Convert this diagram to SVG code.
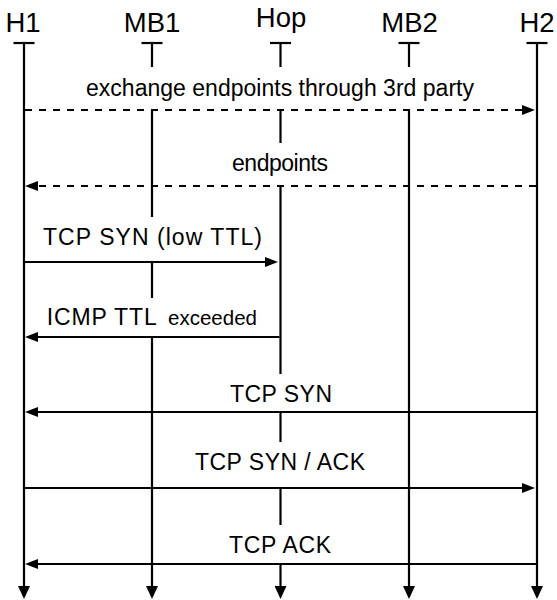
<svg xmlns="http://www.w3.org/2000/svg" width="557" height="600" viewBox="0 0 557 600">
<style>
.life{stroke:#000;stroke-width:2.2;fill:none}
.cap{stroke:#000;stroke-width:2.2}
.msg{stroke:#000;stroke-width:2.2;fill:none;marker-end:url(#ah)}
.dash{stroke-dasharray:7 7}
.bg{fill:#fff;stroke:none}
.name{font-family:"Liberation Sans",Arial,sans-serif;font-size:27.5px;text-anchor:middle;fill:#000}
.lbl{font-family:"Liberation Sans",Arial,sans-serif;font-size:23px;text-anchor:middle;fill:#000}
.lbls{font-family:"Liberation Sans",Arial,sans-serif;font-size:20.5px;fill:#000}
</style>
<defs>
<marker id="ah" viewBox="0 0 13 10" markerWidth="13" markerHeight="10" refX="2" refY="5" orient="auto" markerUnits="userSpaceOnUse">
<path d="M0,0 L13,5 L0,10 z" fill="#000"/>
</marker>
<marker id="ahl" viewBox="0 0 13 12" markerWidth="13" markerHeight="12" refX="2" refY="6" orient="auto" markerUnits="userSpaceOnUse">
<path d="M0,0 L13,6 L0,12 z" fill="#000"/>
</marker>
</defs>
<rect width="557" height="600" fill="#fff"/>

<g id="H1">
<text class="name" x="23" y="31.5">H1</text>
<line class="cap" x1="13.5" y1="43" x2="34.5" y2="43"/>
<path class="life" d="M24,42 V588" marker-end="url(#ahl)"/>
</g>
<g id="MB1">
<text class="name" x="152" y="31.5">MB1</text>
<line class="cap" x1="141.5" y1="43" x2="162.5" y2="43"/>
<path class="life" d="M152,42 V588" marker-end="url(#ahl)"/>
</g>
<g id="Hop">
<text class="name" x="281" y="26.5">Hop</text>
<line class="cap" x1="270" y1="43" x2="291" y2="43"/>
<path class="life" d="M280.5,42 V588" marker-end="url(#ahl)"/>
</g>
<g id="MB2">
<text class="name" x="409.5" y="31.5">MB2</text>
<line class="cap" x1="398.5" y1="43" x2="419.5" y2="43"/>
<path class="life" d="M409,42 V588" marker-end="url(#ahl)"/>
</g>
<g id="H2">
<text class="name" x="537" y="31.5">H2</text>
<line class="cap" x1="526.5" y1="43" x2="547.5" y2="43"/>
<path class="life" d="M537,42 V588" marker-end="url(#ahl)"/>
</g>

<g id="label-backgrounds">
<rect class="bg" x="74" y="67" width="412" height="43"/>
<rect class="bg" x="220" y="143" width="120" height="43"/>
<rect class="bg" x="31" y="217" width="243" height="45"/>
<rect class="bg" x="35" y="298" width="234" height="39"/>
<rect class="bg" x="218" y="374" width="125" height="38"/>
<rect class="bg" x="183" y="442" width="194" height="46"/>
<rect class="bg" x="217" y="525" width="126" height="39"/>
</g>

<g id="connectors">
<path class="msg dash" d="M25,110 H524"/>
<path class="msg dash" d="M536,186 H36"/>
<path class="msg" d="M25,262 H267"/>
<path class="msg" d="M279.5,337 H36"/>
<path class="msg" d="M536,412 H36"/>
<path class="msg" d="M25,488 H524"/>
<path class="msg" d="M536,564 H36"/>
</g>

<g id="labels">
<text class="lbl" x="280" y="96" textLength="388" lengthAdjust="spacing">exchange endpoints through 3rd party</text>
<text class="lbl" x="280" y="170.5" textLength="96" lengthAdjust="spacing">endpoints</text>
<text class="lbl" x="152.5" y="245" textLength="219" lengthAdjust="spacing">TCP SYN (low TTL)</text>
<text class="lbl" x="101.7" y="325" textLength="110" lengthAdjust="spacing">ICMP TTL</text>
<text class="lbls" x="168" y="325" textLength="89" lengthAdjust="spacing">exceeded</text>
<text class="lbl" x="281" y="401.5" textLength="102" lengthAdjust="spacing">TCP SYN</text>
<text class="lbl" x="280" y="470" textLength="170" lengthAdjust="spacing">TCP SYN / ACK</text>
<text class="lbl" x="280" y="552.5" textLength="102" lengthAdjust="spacing">TCP ACK</text>
</g>
</svg>
